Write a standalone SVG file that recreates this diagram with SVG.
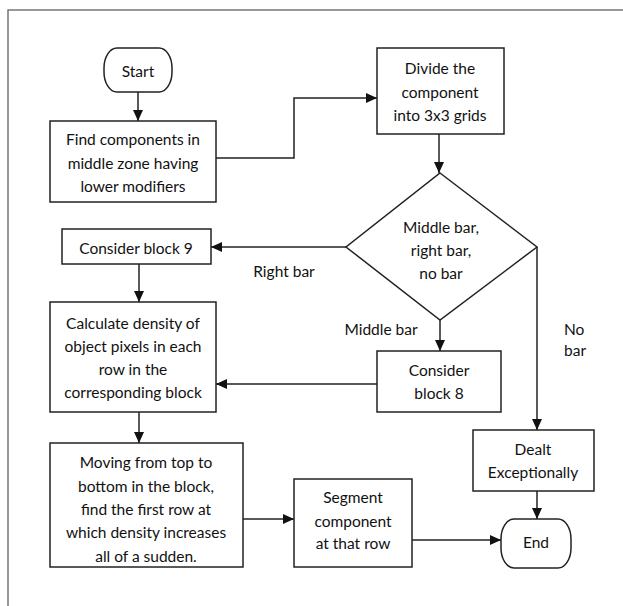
<svg xmlns="http://www.w3.org/2000/svg" width="623" height="606" viewBox="0 0 623 606">
<style>
.box{fill:#fff;stroke:#222;stroke-width:1.5}
.t{font-family:Lato,"Open Sans","Liberation Sans",sans-serif;font-size:15.5px;fill:#111;text-anchor:middle;dominant-baseline:central}
.c{fill:none;stroke:#222;stroke-width:1.5}
.frame{fill:none;stroke:#777;stroke-width:1.5}
</style>
<defs>
<marker id="arr" viewBox="0 0 11 10" refX="11" refY="5" markerWidth="11" markerHeight="10" markerUnits="userSpaceOnUse" orient="auto">
<path d="M0,0 L11,5 L0,10 z" fill="#111"/>
</marker>
</defs>
<rect width="623" height="606" fill="#fff"/>
<path class="frame" d="M8,606 V10 H623"/>
<g id="connectors">
<path class="c" d="M138,92 V121" marker-end="url(#arr)"/>
<path class="c" d="M216,158 H294 V98 H377" marker-end="url(#arr)"/>
<path class="c" d="M439,134 V173" marker-end="url(#arr)"/>
<path class="c" d="M346,247 H211" marker-end="url(#arr)"/>
<path class="c" d="M139,264 V302" marker-end="url(#arr)"/>
<path class="c" d="M440,320 V351" marker-end="url(#arr)"/>
<path class="c" d="M377,384 H216" marker-end="url(#arr)"/>
<path class="c" d="M537,247 V430" marker-end="url(#arr)"/>
<path class="c" d="M139,412 V443" marker-end="url(#arr)"/>
<path class="c" d="M243,519 H294" marker-end="url(#arr)"/>
<path class="c" d="M412,540 H501" marker-end="url(#arr)"/>
<path class="c" d="M537,491 V519" marker-end="url(#arr)"/>
<text class="t" x="284" y="271">Right bar</text>
<text class="t" x="381" y="329">Middle bar</text>
<text class="t" x="564" y="329" style="text-anchor:start">No</text>
<text class="t" x="564" y="350" style="text-anchor:start">bar</text>
</g>
<g id="start">
<rect class="box" x="104" y="48" width="68" height="44" rx="13" ry="20"/>
<text class="t" x="138" y="71">Start</text>
</g>
<g id="find">
<rect class="box" x="50" y="121" width="166" height="81"/>
<text class="t" x="133" y="139">Find components in</text>
<text class="t" x="133" y="163">middle zone having</text>
<text class="t" x="133" y="186">lower modifiers</text>
</g>
<g id="divide">
<rect class="box" x="377" y="48" width="127" height="86"/>
<text class="t" x="440" y="68">Divide the</text>
<text class="t" x="440" y="92">component</text>
<text class="t" x="440" y="115">into 3x3 grids</text>
</g>
<g id="decision">
<path class="box" d="M440,173 L537,247 L440,320 L346,247 Z"/>
<text class="t" x="441" y="227">Middle bar,</text>
<text class="t" x="441" y="250">right bar,</text>
<text class="t" x="441" y="273">no bar</text>
</g>
<g id="block9">
<rect class="box" x="62" y="229" width="149" height="35"/>
<text class="t" x="136" y="248">Consider block 9</text>
</g>
<g id="calculate">
<rect class="box" x="50" y="302" width="166" height="110"/>
<text class="t" x="133" y="323">Calculate density of</text>
<text class="t" x="133" y="346">object pixels in each</text>
<text class="t" x="133" y="369">row in the</text>
<text class="t" x="133" y="392">corresponding block</text>
</g>
<g id="block8">
<rect class="box" x="377" y="351" width="124" height="61"/>
<text class="t" x="439" y="370">Consider</text>
<text class="t" x="439" y="393">block 8</text>
</g>
<g id="dealt">
<rect class="box" x="473" y="430" width="121" height="61"/>
<text class="t" x="533" y="449">Dealt</text>
<text class="t" x="533" y="472">Exceptionally</text>
</g>
<g id="moving">
<rect class="box" x="50" y="443" width="193" height="124"/>
<text class="t" x="146" y="462">Moving from top to</text>
<text class="t" x="146" y="486">bottom in the block,</text>
<text class="t" x="146" y="509">find the first row at</text>
<text class="t" x="146" y="532">which density increases</text>
<text class="t" x="146" y="556">all of a sudden.</text>
</g>
<g id="segment">
<rect class="box" x="294" y="479" width="118" height="88"/>
<text class="t" x="353" y="497">Segment</text>
<text class="t" x="353" y="521">component</text>
<text class="t" x="353" y="543">at that row</text>
</g>
<g id="end">
<rect class="box" x="501" y="519" width="70" height="49" rx="13" ry="20"/>
<text class="t" x="536" y="542">End</text>
</g>
</svg>
